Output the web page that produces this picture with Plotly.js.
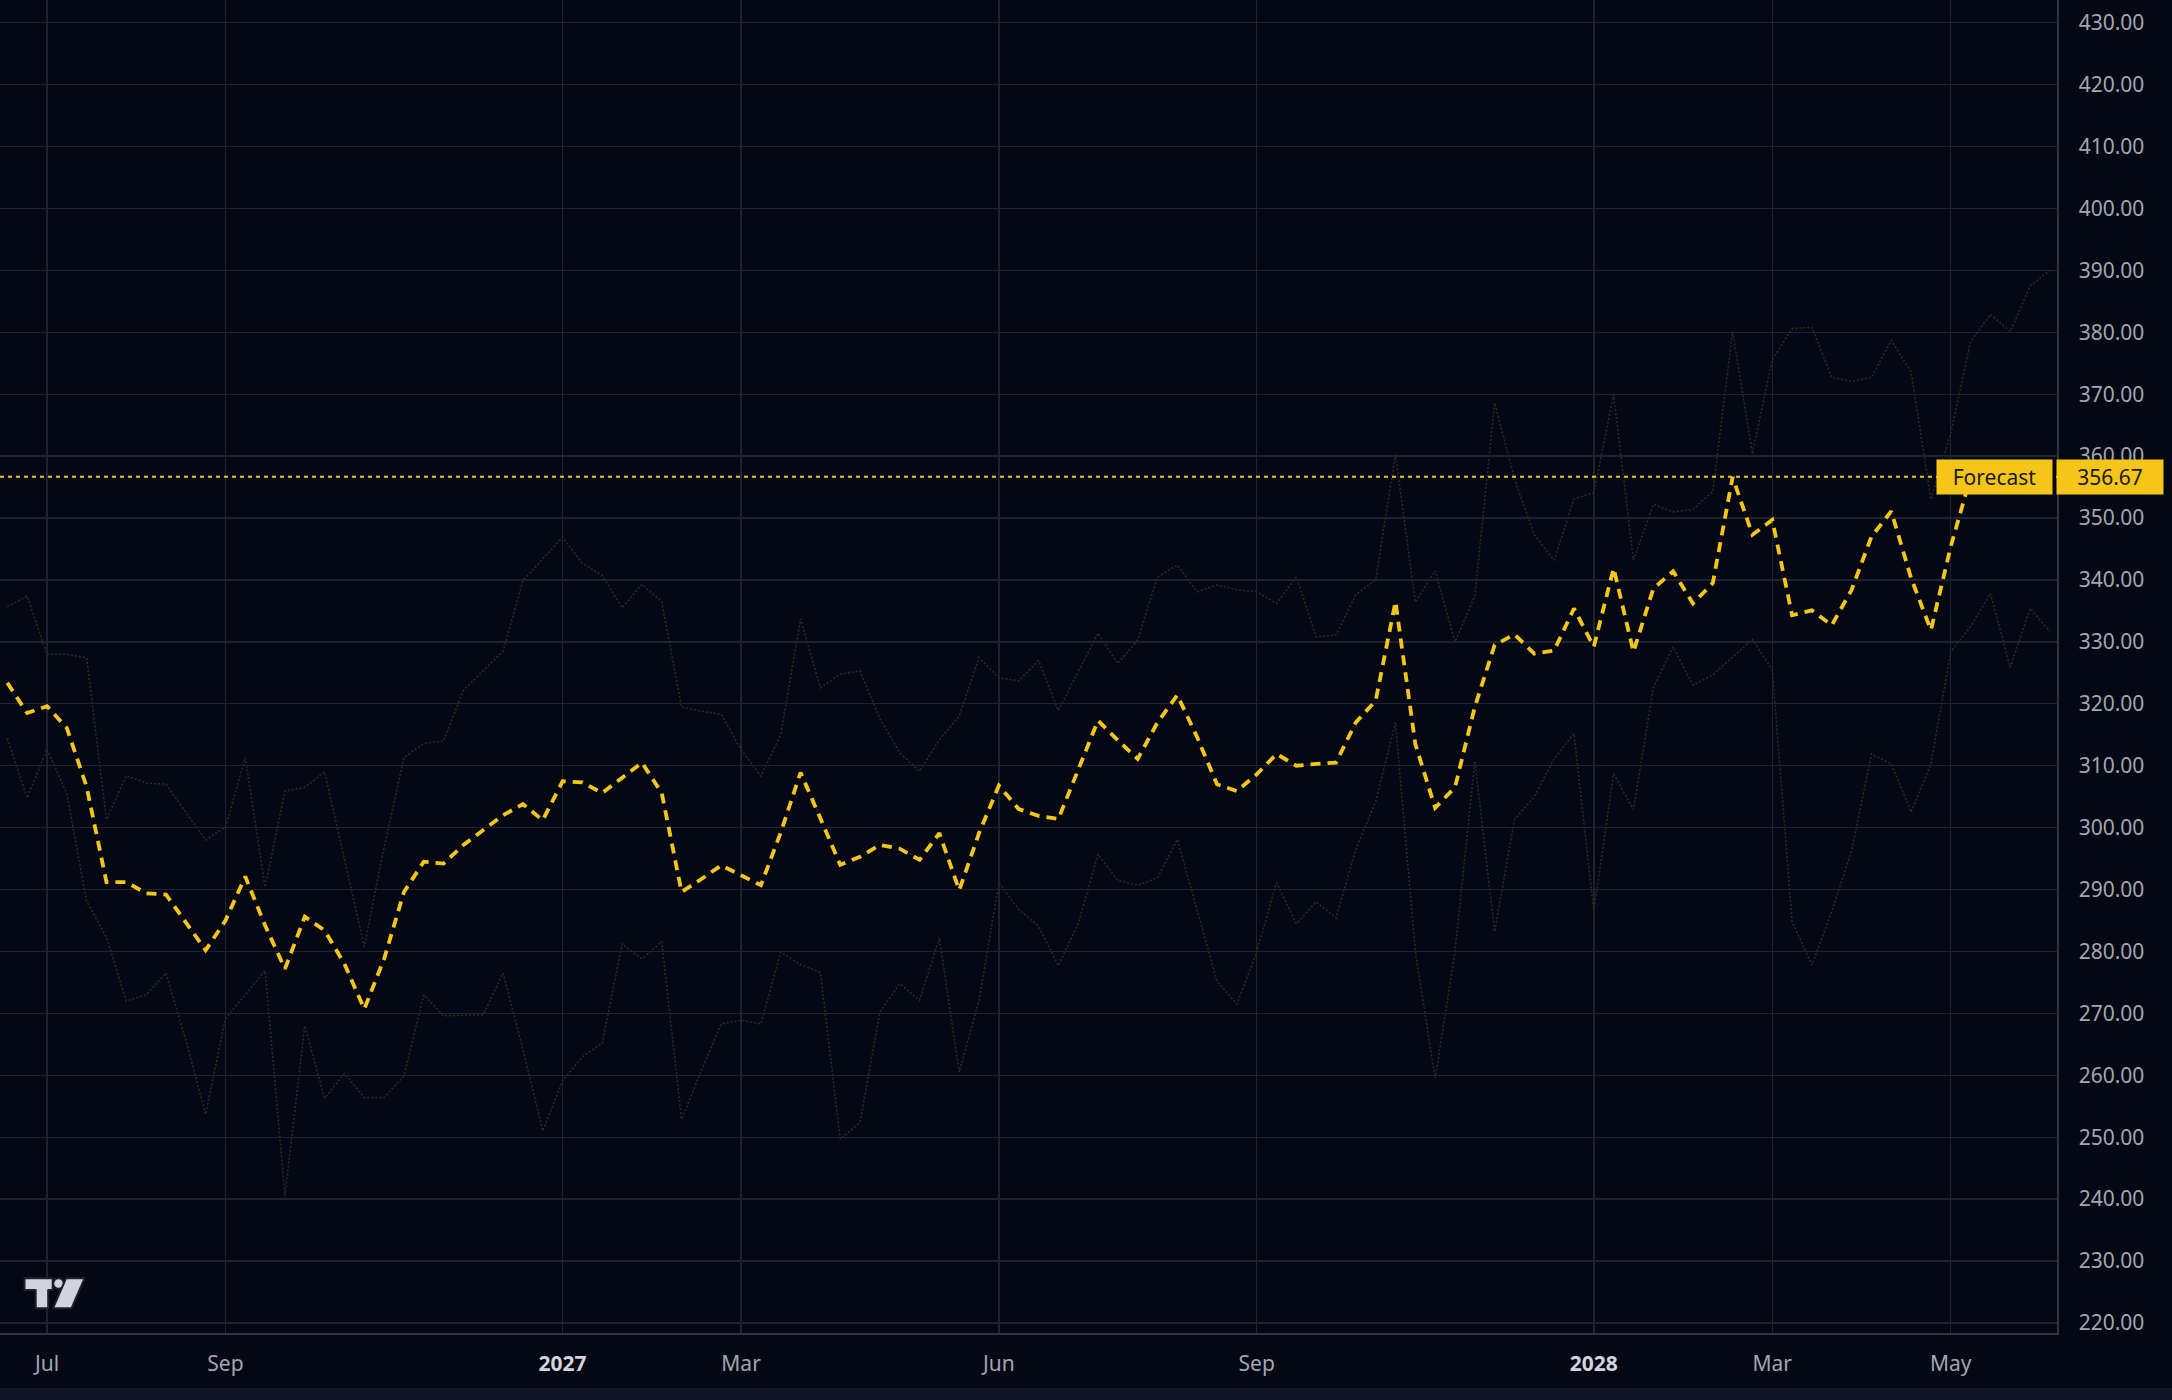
<!DOCTYPE html>
<html>
<head>
<meta charset="utf-8">
<script src="https://cdn.plot.ly/plotly-3.0.1.min.js"></script>
<style>
html,body{margin:0;padding:0;background:#040814;}
#chart{width:2172px;height:1400px;}
</style>
</head>
<body>
<div id="chart"></div>
<script>
// ---- data (weekly points, first week starting 2026-06-15) ----
const startWeek = '2026-06-15';

const forecast = [
  323.4, 318.5, 319.6, 316.1, 306.6, 291.2, 291.2, 289.4, 289.2, 284.6,
  280.2, 285.0, 292.1, 284.2, 277.2, 285.6, 283.4, 278.0, 270.7, 278.8,
  289.6, 294.5, 294.2, 297.2, 299.6, 302.0, 303.8, 301.2, 307.5, 307.3,
  305.6, 308.0, 310.5, 305.6, 289.6, 291.7, 293.9, 292.3, 290.7, 299.2,
  308.9, 301.5, 294.0, 295.3, 297.2, 296.6, 294.8, 299.1, 289.9, 299.1,
  306.8, 303.0, 301.9, 301.4, 309.2, 317.3, 314.1, 311.1, 317.0, 321.4,
  314.6, 307.0, 305.9, 308.6, 311.9, 310.0, 310.3, 310.5, 317.0, 320.5,
  336.5, 313.5, 303.2, 306.5, 319.5, 329.5, 331.2, 328.1, 328.6, 335.4,
  329.2, 341.9, 328.4, 338.6, 341.4, 336.2, 339.5, 356.6, 347.3, 349.7,
  334.3, 335.1, 332.7, 338.4, 347.0, 351.1, 340.3, 331.9, 345.4, 356.67
];

const upperBand = [
  335.7, 337.4, 328.0, 328.0, 327.4, 301.3, 308.4, 307.2, 307.0, 302.5,
  298.0, 300.1, 311.3, 290.4, 305.9, 306.5, 309.0, 294.9, 280.8, 296.8,
  311.3, 313.6, 314.0, 322.2, 325.3, 328.5, 339.9, 343.4, 346.9, 342.7,
  340.7, 335.5, 339.3, 336.5, 319.5, 318.8, 318.3, 312.6, 308.3, 315.0,
  333.7, 322.6, 324.8, 325.3, 317.6, 312.1, 309.1, 314.2, 318.0, 327.5,
  324.2, 323.7, 327.0, 318.9, 325.1, 331.4, 326.5, 330.3, 340.5, 342.4,
  338.1, 339.2, 338.4, 338.1, 336.2, 340.5, 330.8, 331.1, 337.6, 340.0,
  360.3, 336.4, 341.5, 330.0, 337.4, 368.6, 356.3, 347.3, 343.2, 353.1,
  354.1, 369.9, 343.2, 352.2, 351.0, 351.4, 354.3, 380.1, 360.4, 375.6,
  380.6, 380.8, 372.7, 372.1, 372.7, 378.7, 373.6, 353.0, 363.7, 378.5,
  382.9, 380.1, 387.5, 390.0
];

const lowerBand = [
  314.4, 304.8, 312.7, 305.5, 288.1, 282.3, 272.0, 273.0, 276.5, 265.7,
  253.7, 269.2, 273.0, 276.9, 240.6, 268.0, 256.3, 260.3, 256.4, 256.4,
  259.9, 273.0, 269.6, 269.7, 269.8, 276.5, 264.2, 251.0, 259.1, 263.0,
  265.2, 281.2, 278.8, 281.6, 252.9, 260.8, 268.3, 268.9, 268.3, 279.9,
  277.9, 276.6, 249.7, 252.4, 270.2, 274.8, 272.1, 282.2, 260.5, 272.1,
  291.1, 286.8, 284.1, 277.7, 284.5, 295.7, 291.5, 290.7, 291.9, 298.1,
  286.8, 275.2, 271.5, 279.9, 291.1, 284.5, 288.0, 285.4, 296.5, 304.2,
  317.0, 280.0, 259.5, 279.9, 310.7, 283.2, 301.3, 305.0, 311.1, 315.2,
  286.5, 308.7, 302.9, 322.6, 329.2, 323.0, 324.7, 327.6, 330.4, 325.5,
  284.8, 277.8, 286.5, 296.3, 311.9, 310.3, 302.5, 310.3, 328.4, 332.5,
  337.8, 325.9, 335.4, 331.7
];

const tickDates  = ['2026-06-29','2026-08-31','2026-12-28','2027-03-01','2027-05-31','2027-08-30','2027-12-27','2028-02-28','2028-05-01'];
const tickLabels = ['Jul','Sep','2027','Mar','Jun','Sep','2028','Mar','May'];
const yearLabels = ['2027','2028'];
const forecastName = 'Forecast';

// ---- build ----
function weeklyDates(n) {
  const d0 = new Date(startWeek + 'T00:00:00Z').getTime();
  const out = [];
  for (let i = 0; i < n; i++) out.push(new Date(d0 + i * 7 * 86400000).toISOString().slice(0, 10));
  return out;
}

const xF = weeklyDates(forecast.length);
const xU = weeklyDates(upperBand.length);
const xL = weeklyDates(lowerBand.length);
const lastValue = forecast[forecast.length - 1];

const tickText = tickLabels.map(t => yearLabels.includes(t)
  ? '<span style="color:#d1d4dc"><b>' + t + '</b></span>' : t);

const bandStyle = {color: '#2c2b22', width: 1.6, dash: '2px,2px'};

const traces = [
  {x: xU, y: upperBand, type: 'scatter', mode: 'lines', line: bandStyle, hoverinfo: 'skip'},
  {x: xL, y: lowerBand, type: 'scatter', mode: 'lines', line: bandStyle, hoverinfo: 'skip'},
  {x: xF, y: forecast, type: 'scatter', mode: 'lines', name: forecastName,
   line: {color: '#f5c518', width: 3.8, dash: '10px,7px'}, hoverinfo: 'skip'}
];

const W = 2172, H = 1400, mr = 115, mb = 67;
const plotW = W - mr, plotH = H - mb;

const logoSvg = '<svg xmlns="http://www.w3.org/2000/svg" viewBox="0 0 70 40" width="70" height="40">' +
  '<g fill="#d1d4dc" stroke="#1c2030" stroke-width="2" stroke-linejoin="round">' +
  '<path d="M4.5 6.3 H32.7 V18 H28.2 V36.3 H15.7 V18 H4.5 Z"/>' +
  '<circle cx="38.5" cy="11.5" r="5.3"/>' +
  '<path d="M46 6.3 H64.5 L51.5 36.3 H33 Z"/>' +
  '</g></svg>';

const layout = {
  width: W, height: H,
  paper_bgcolor: '#040814', plot_bgcolor: '#040814',
  margin: {l: 0, r: mr, t: 0, b: mb, pad: 0},
  showlegend: false,
  font: {family: 'Noto Sans, Open Sans, sans-serif', size: 21, color: '#a3a6af'},
  xaxis: {
    type: 'date',
    range: ['2026-06-12 10:00', '2028-06-07 12:00'],
    tickmode: 'array', tickvals: tickDates, ticktext: tickText,
    showgrid: true, gridcolor: '#1e2331', gridwidth: 1.4,
    showline: true, linecolor: '#2e3442', linewidth: 1.5,
    ticks: '', ticklabelstandoff: 11,
    tickfont: {size: 21, color: '#a3a6af'},
    zeroline: false, fixedrange: true
  },
  yaxis: {
    side: 'right',
    range: [218.38, 433.67],
    tick0: 0, dtick: 10, tickformat: '.2f',
    showgrid: true, gridcolor: '#1e2331', gridwidth: 1.4,
    showline: true, linecolor: '#2e3442', linewidth: 1.5,
    ticks: '', ticklabelstandoff: 16,
    tickfont: {size: 21, color: '#a3a6af'},
    zeroline: false, fixedrange: true
  },
  shapes: [
    {type: 'line', xref: 'paper', x0: 0, x1: 1, yref: 'y', y0: lastValue, y1: lastValue,
     line: {color: '#f5c518', width: 2, dash: '4px,4px'}, layer: 'above'},
    {type: 'rect', xref: 'paper', x0: 0, x1: W / plotW, yref: 'paper',
     y0: -(H - plotH) / plotH, y1: -(H - 12 - plotH) / plotH,
     fillcolor: '#121725', line: {width: 0}, layer: 'above'}
  ],
  annotations: [
    {xref: 'paper', x: 1, xanchor: 'right', xshift: -4, yref: 'y', y: lastValue, yanchor: 'middle',
     text: forecastName, showarrow: false, bgcolor: '#f5c518', borderpad: 3,
     width: 109, height: 28, align: 'center',
     font: {size: 21, color: '#1a1a1a', family: 'Noto Sans, Open Sans, sans-serif'}},
    {xref: 'paper', x: 1, xanchor: 'left', xshift: -1, yref: 'y', y: lastValue, yanchor: 'middle',
     text: lastValue.toFixed(2), showarrow: false, bgcolor: '#f5c518', borderpad: 3,
     width: 100, height: 28, align: 'center',
     font: {size: 21, color: '#1a1a1a', family: 'Noto Sans, Open Sans, sans-serif'}}
  ],
  images: [
    {source: 'data:image/svg+xml;charset=utf-8,' + encodeURIComponent(logoSvg),
     xref: 'paper', yref: 'paper', x: 20 / plotW, y: (plotH - 1272) / plotH,
     sizex: 70 / plotW, sizey: 40 / plotH, sizing: 'stretch',
     xanchor: 'left', yanchor: 'top', layer: 'above'}
  ]
};

Plotly.newPlot('chart', traces, layout, {displayModeBar: false, staticPlot: true});
</script>
</body>
</html>
